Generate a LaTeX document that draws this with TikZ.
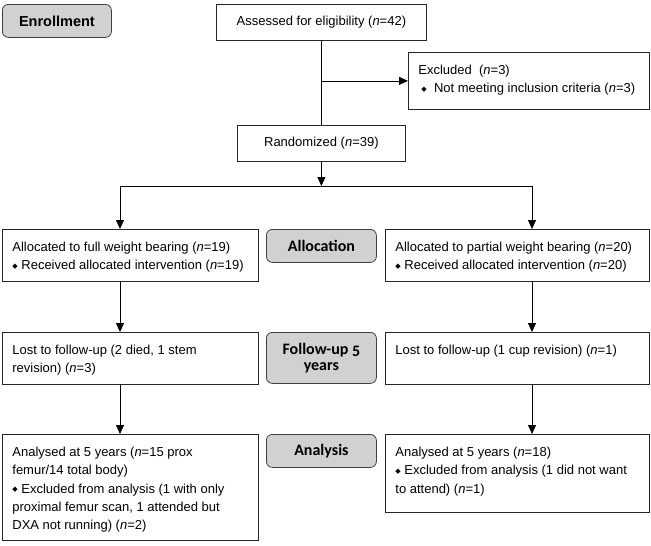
\documentclass[tikz,border=0pt]{standalone}
\usepackage{fontspec}
\setmainfont{Liberation Sans}
\newfontfamily\lblfont{Carlito}
\newfontfamily\symfont{DejaVu Sans}
\usetikzlibrary{arrows.meta}
\newcommand{\dm}{{\symfont\fontsize{7}{7}\selectfont\raisebox{1.5pt}{◆}}}
\newcommand{\bt}[3]{\parbox[c][#2][t]{#1}{\raggedright\leftskip=10pt\rule{0pt}{22pt}#3}}
\tikzset{
  box/.style={draw=black!85, line width=0.8pt, fill=white, inner sep=0pt, anchor=north west, font=\fontsize{13}{18.3}\selectfont},
  cbox/.style={draw=black!85, line width=0.8pt, fill=white, inner sep=0pt, anchor=north west, font=\fontsize{13}{16}\selectfont},
  lbl/.style={draw=black!75, line width=0.8pt, fill=black!18, rounded corners=6pt, inner sep=0pt, anchor=north west, align=center, font=\lblfont\bfseries\fontsize{16}{16.5}\selectfont},
  arr/.style={-{Triangle[width=8pt,length=9pt]}, line width=0.8pt},
  ln/.style={line width=0.8pt}
}
\begin{document}
\begin{tikzpicture}[x=1pt,y=-1pt]
\useasboundingbox (0,0) rectangle (651,546);
% phase labels
\node[lbl, minimum width=109pt, minimum height=33pt, font=\bfseries\fontsize{14.5}{16}\selectfont] (enr) at (2,4) {Enrollment};
\node[lbl, minimum width=110pt, minimum height=33pt] (allo) at (266,229) {Allocation};
\node[lbl, minimum width=110pt, minimum height=51pt] (fol) at (266,332) {Follow-up \raisebox{-2.7pt}{5}\\years};
\node[lbl, minimum width=110pt, minimum height=33pt] (ana) at (266,434) {Analysis};
% boxes
\node[cbox, minimum width=210pt, minimum height=36pt] (ass) at (216,4) {Assessed for eligibility (\textit{n}=42)};
\node[box] (exc) at (408,52) {\bt{241pt}{57pt}{Excluded~~(\textit{n}=3)\\\hspace*{3pt}\dm~ Not meeting inclusion criteria (\textit{n}=3)}};
\node[cbox, minimum width=168pt, minimum height=36pt] (rand) at (237,125) {Randomized (\textit{n}=39)};
\node[box] (la) at (2,229) {\bt{256pt}{52pt}{Allocated to full weight bearing (\textit{n}=19)\\\dm~Received allocated intervention (\textit{n}=19)}};
\node[box] (ra) at (385,229) {\bt{264pt}{52pt}{Allocated to partial weight bearing (\textit{n}=20)\\\dm~Received allocated intervention (\textit{n}=20)}};
\node[box] (lf) at (2,332) {\bt{256pt}{52pt}{Lost to follow-up (2 died, 1 stem\\revision) (\textit{n}=3)}};
\node[box] (rf) at (385,332) {\bt{264pt}{52pt}{Lost to follow-up (1 cup revision) (\textit{n}=1)}};
\node[box] (lan) at (2,434) {\bt{256pt}{106pt}{Analysed at 5 years (\textit{n}=15 prox\\femur/14 total body)\\\dm~Excluded from analysis (1 with only\\proximal femur scan, 1 attended but\\DXA not running) (\textit{n}=2)}};
\node[box] (ran) at (385,434) {\bt{264pt}{78pt}{Analysed at 5 years (\textit{n}=18)\\\dm~Excluded from analysis (1 did not want\\to attend) (\textit{n}=1)}};
% connectors
\draw[ln] (ass.south) -- (rand.north);
\coordinate (exj) at (ass.south |- exc.west);
\draw[arr] (exj) -- (exc.west);
\coordinate (sp) at (rand.south |- 0,186);
\draw[arr] (rand.south) -- (sp);
\coordinate (sl) at (120,186);
\coordinate (sr) at (532,186);
\draw[ln] (sl) -- (sr);
\draw[arr] (sl) -- (sl |- la.north);
\draw[arr] (sr) -- (sr |- ra.north);
\draw[arr] (sl |- la.south) -- (sl |- lf.north);
\draw[arr] (sr |- ra.south) -- (sr |- rf.north);
\draw[arr] (sl |- lf.south) -- (sl |- lan.north);
\draw[arr] (sr |- rf.south) -- (sr |- ran.north);
\end{tikzpicture}
\end{document}
